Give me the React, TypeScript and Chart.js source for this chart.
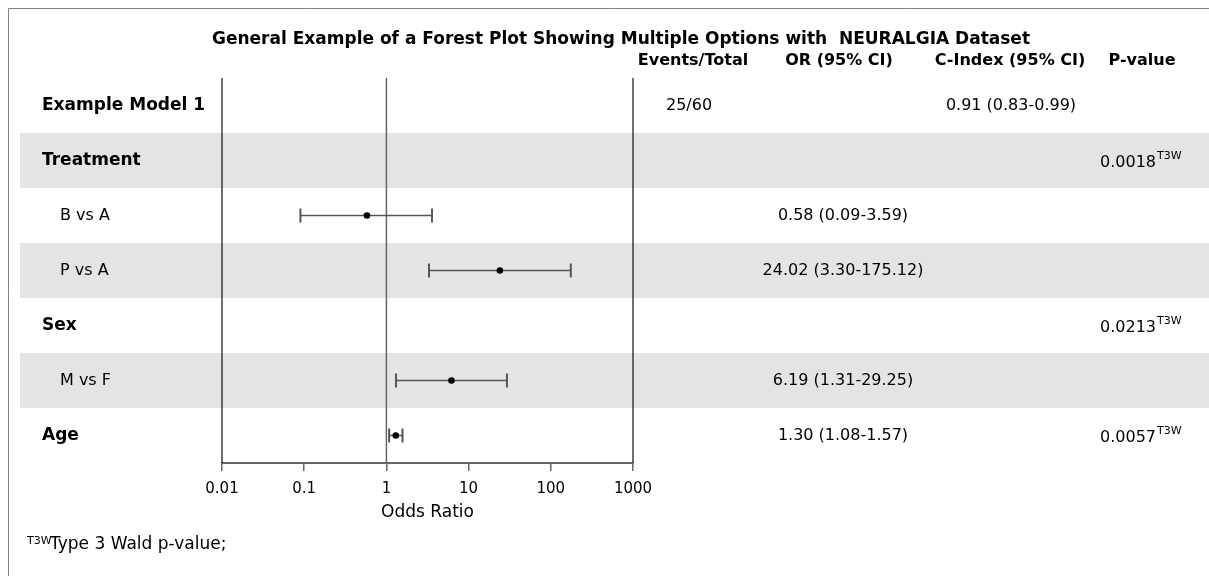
import React, { useEffect, useRef } from 'react';
import { Chart, registerables } from 'chart.js';

Chart.register(...registerables);

// ---------- data ----------
const chartTitle = 'General Example of a Forest Plot Showing Multiple Options with  NEURALGIA Dataset';
const columnHeaders = ['Events/Total', 'OR (95% CI)', 'C-Index (95% CI)', 'P-value'];
const rowLabels = ['Example Model 1', 'Treatment', 'B vs A', 'P vs A', 'Sex', 'M vs F', 'Age'];
const rowBold = [true, true, false, false, true, false, true];
const rowIndented = [false, false, true, true, false, true, false];
const rowShaded = [false, true, false, true, false, true, false];
const orEstimate = [null, null, 0.58, 24.02, null, 6.19, 1.3];
const orLower = [null, null, 0.09, 3.3, null, 1.31, 1.08];
const orUpper = [null, null, 3.59, 175.12, null, 29.25, 1.57];
const eventsTotalText = ['25/60', '', '', '', '', '', ''];
const orText = ['', '', '0.58 (0.09-3.59)', '24.02 (3.30-175.12)', '', '6.19 (1.31-29.25)', '1.30 (1.08-1.57)'];
const cIndexText = ['0.91 (0.83-0.99)', '', '', '', '', '', ''];
const pValueText = ['', '0.0018', '', '', '0.0213', '', '0.0057'];
const pValueMark = 'T3W';
const xTickValues = [0.01, 0.1, 1, 10, 100, 1000];
const xTickLabels = ['0.01', '0.1', '1', '10', '100', '1000'];
const referenceValue = 1;
const xAxisTitle = 'Odds Ratio';
const footnoteText = 'Type 3 Wald p-value;';

// ---------- layout / style ----------
const W = 1209;
const H = 576;
const FONT = "'DejaVu Sans', sans-serif";
const PLOT_LEFT = 222;
const PLOT_RIGHT = 633;
const PLOT_TOP = 78;
const PLOT_BOTTOM = 463;
const XAXIS_H = 60;
const BAND_COLOR = '#e4e4e4';
const FRAME_COLOR = '#808080';
const CI_COLOR = '#555555';

const forestPlugin = {
  id: 'forestDecor',
  beforeDraw(chart: any) {
    const ctx = chart.ctx;
    const y = chart.scales.y;
    ctx.save();
    ctx.fillStyle = '#ffffff';
    ctx.fillRect(0, 0, W, H);
    // frame
    ctx.strokeStyle = FRAME_COLOR;
    ctx.lineWidth = 1;
    ctx.beginPath();
    ctx.moveTo(8.5, H);
    ctx.lineTo(8.5, 8.5);
    ctx.lineTo(W, 8.5);
    ctx.stroke();
    // bands
    ctx.fillStyle = BAND_COLOR;
    rowShaded.forEach((s, i) => {
      if (!s) return;
      const a = y.getPixelForValue(i - 0.5);
      const b = y.getPixelForValue(i + 0.5);
      ctx.fillRect(20, Math.min(a, b), W - 20, Math.abs(b - a));
    });
    ctx.restore();
  },
  afterDraw(chart: any) {
    const ctx = chart.ctx;
    const y = chart.scales.y;
    ctx.save();
    ctx.fillStyle = '#000';
    ctx.textBaseline = 'middle';
    // title
    ctx.font = `bold 17px ${FONT}`;
    ctx.textAlign = 'center';
    ctx.fillText(chartTitle, 621, 40);
    // headers
    ctx.font = `bold 16px ${FONT}`;
    const headerX = [693, 839, 1010, 1142];
    columnHeaders.forEach((h, i) => ctx.fillText(h, headerX[i], 61));
    // rows
    rowLabels.forEach((lab, i) => {
      const cy = y.getPixelForValue(i);
      ctx.textBaseline = 'middle';
      ctx.textAlign = 'left';
      ctx.font = rowBold[i] ? `bold 17px ${FONT}` : `16px ${FONT}`;
      ctx.fillText(lab, rowIndented[i] ? 60 : 42, cy);
      ctx.font = `16px ${FONT}`;
      ctx.textAlign = 'center';
      if (eventsTotalText[i]) ctx.fillText(eventsTotalText[i], 689, cy);
      if (orText[i]) ctx.fillText(orText[i], 843, cy);
      if (cIndexText[i]) ctx.fillText(cIndexText[i], 1011, cy);
      if (pValueText[i]) {
        ctx.textAlign = 'left';
        ctx.textBaseline = 'alphabetic';
        ctx.fillText(pValueText[i], 1100, cy + 6);
        const w = ctx.measureText(pValueText[i]).width;
        ctx.font = `11px ${FONT}`;
        ctx.fillText(pValueMark, 1100 + w + 1, cy - 2);
      }
    });
    // footnote
    ctx.textAlign = 'left';
    ctx.textBaseline = 'alphabetic';
    ctx.font = `11px ${FONT}`;
    ctx.fillText(pValueMark, 27, 544);
    ctx.font = `17px ${FONT}`;
    ctx.fillText(footnoteText, 50, 549);
    ctx.restore();
  },
};

export default function App() {
  const ref = useRef<HTMLCanvasElement | null>(null);

  useEffect(() => {
    document.body.style.margin = '0';
    const canvas = ref.current;
    if (!canvas) return;

    const datasets: any[] = [];
    // point estimates (drawn on top)
    datasets.push({
      type: 'scatter',
      data: orEstimate
        .map((v, i) => (v == null ? null : { x: v, y: i }))
        .filter((p) => p !== null),
      pointRadius: 3.3,
      pointBackgroundColor: '#000',
      pointBorderColor: '#000',
      pointBorderWidth: 0,
      clip: false,
    });
    // confidence intervals with caps
    orLower.forEach((lo, i) => {
      const hi = orUpper[i];
      if (lo == null || hi == null) return;
      datasets.push({
        type: 'line',
        data: [
          { x: lo, y: i },
          { x: hi, y: i },
        ],
        borderColor: CI_COLOR,
        borderWidth: 1.5,
        pointStyle: 'line',
        pointRotation: 90,
        pointRadius: 7,
        pointBorderColor: CI_COLOR,
        pointBorderWidth: 2,
        clip: false,
      });
    });
    // reference line at OR = 1
    datasets.push({
      type: 'line',
      data: [
        { x: referenceValue, y: -0.5 },
        { x: referenceValue, y: 6.5 },
      ],
      borderColor: '#666',
      borderWidth: 1.5,
      pointRadius: 0,
      clip: false,
    });
    // plot boundary lines at axis ends
    [xTickValues[0], xTickValues[xTickValues.length - 1]].forEach((v) => {
      datasets.push({
        type: 'line',
        data: [
          { x: v, y: -0.5 },
          { x: v, y: 6.5 },
        ],
        borderColor: '#111',
        borderWidth: 1.2,
        pointRadius: 0,
        clip: false,
      });
    });

    const chart = new Chart(canvas, {
      type: 'scatter',
      data: { datasets },
      plugins: [forestPlugin],
      options: {
        animation: false,
        responsive: false,
        events: [],
        layout: {
          padding: {
            left: PLOT_LEFT,
            right: W - PLOT_RIGHT,
            top: PLOT_TOP,
            bottom: H - PLOT_BOTTOM - XAXIS_H,
          },
        },
        plugins: {
          legend: { display: false },
          tooltip: { enabled: false },
          title: { display: false },
        },
        scales: {
          x: {
            type: 'logarithmic',
            min: xTickValues[0],
            max: xTickValues[xTickValues.length - 1],
            afterBuildTicks: (s: any) => {
              s.ticks = xTickValues.map((v) => ({ value: v }));
            },
            afterFit: (s: any) => {
              s.height = XAXIS_H;
            },
            ticks: {
              autoSkip: false,
              maxRotation: 0,
              padding: 9,
              color: '#000',
              font: { family: FONT, size: 15 },
              callback: (_v: any, i: number) => xTickLabels[i],
            },
            grid: {
              display: true,
              drawOnChartArea: false,
              drawTicks: true,
              tickLength: 8,
              color: '#666',
              lineWidth: 1.5,
            },
            border: { display: true, color: '#666', width: 2 },
            title: {
              display: true,
              text: xAxisTitle,
              color: '#000',
              font: { family: FONT, size: 17 },
              padding: { top: 0, bottom: 0 },
            },
          },
          y: {
            type: 'linear',
            min: -0.5,
            max: 6.5,
            reverse: true,
            display: false,
          },
        },
      },
    });

    return () => chart.destroy();
  }, []);

  return (
    <canvas
      ref={ref}
      width={W}
      height={H}
      style={{ display: 'block', width: W + 'px', height: H + 'px' }}
    />
  );
}
